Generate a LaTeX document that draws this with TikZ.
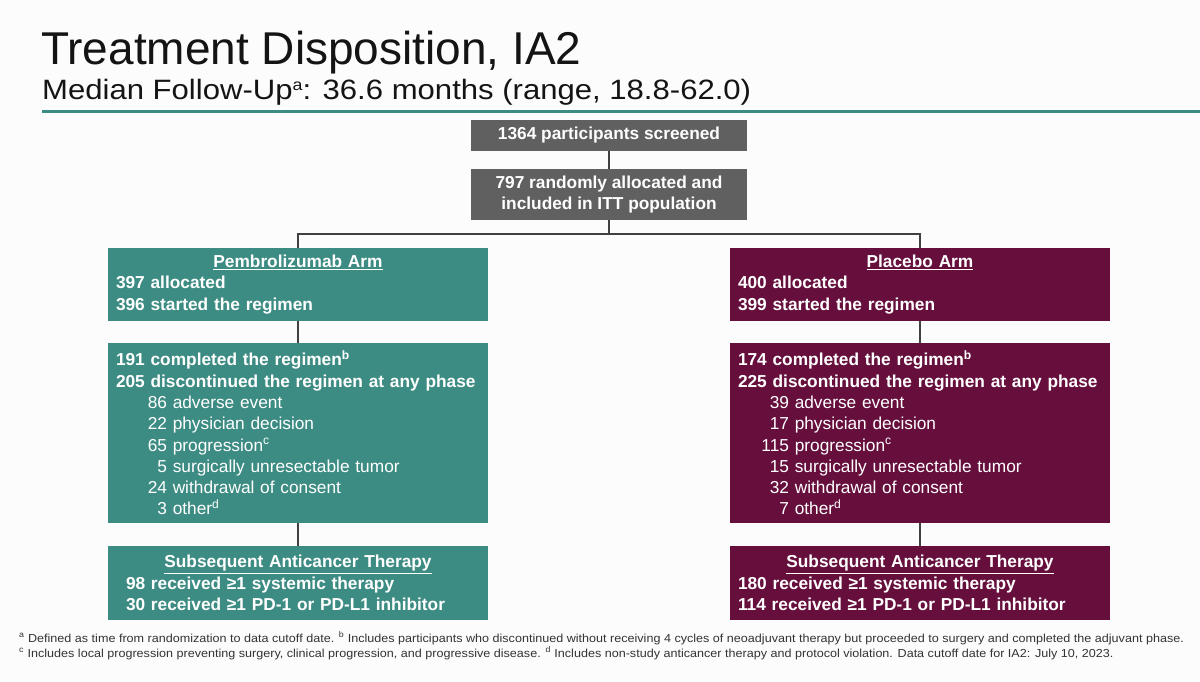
\documentclass[tikz,border=0pt]{standalone}
\usepackage{fontspec}
\setmainfont{Liberation Sans}
\newfontfamily\widesans[FakeStretch=1.11]{Liberation Sans}
\newfontfamily\notesans[FakeStretch=1.085]{Liberation Sans}
\usetikzlibrary{positioning}
\definecolor{teal1}{HTML}{3D8C83}
\definecolor{plum1}{HTML}{660F3D}
\definecolor{gray1}{HTML}{606060}
\definecolor{line1}{HTML}{404040}
\definecolor{bg1}{HTML}{FCFCFC}
\newcommand{\reasonline}[2]{\makebox[51pt][r]{#1} #2}
\begin{document}
\begin{tikzpicture}[x=1pt,y=1pt,
  boxbase/.style={rectangle, inner sep=0pt, text=white, font=\bfseries\fontsize{17.3}{21.3}\selectfont},
  graybox/.style={boxbase, fill=gray1, minimum width=276pt, align=center},
  armbox/.style={boxbase, minimum width=380pt, text width=364pt, align=left},
  conn/.style={draw=line1, line width=1.3pt},
  notetext/.style={anchor=base west, inner sep=0pt, font=\notesans\fontsize{11.6}{13}\selectfont, text=black!80}]
\useasboundingbox (0,0) rectangle (1200,-681);
\fill[bg1] (0,0) rectangle (1200,-681);
% title
\node[anchor=base west, inner sep=0pt, font=\fontsize{46}{50}\selectfont, text=black!92] (title) at (41,-64) {Treatment Disposition, IA2};
\node[anchor=base west, inner sep=0pt, font=\widesans\fontsize{28}{30}\selectfont, text=black!92] (subtitle) at (42,-99) {Median Follow-Up\raisebox{9pt}{\fontsize{16}{16}\selectfont a}: 36.6 months (range, 18.8-62.0)};
\fill[teal1] (42,-109.5) rectangle (1200,-113);
% top boxes
\node[graybox, minimum height=31pt] (screen) at (609,-135.5) {1364 participants screened};
\node[graybox, minimum height=51pt, font=\bfseries\fontsize{17.3}{21.5}\selectfont] (itt) at (609,-194.5) {797 randomly allocated and\\included in ITT population};
% left arm
\node[armbox, fill=teal1, minimum height=73pt] (parm) at (298,-284.5) {{\centering\underline{Pembrolizumab Arm}\par}397 allocated\\396 started the regimen};
\node[armbox, fill=teal1, minimum height=180pt] (pdisp) at (298,-433) {191 completed the regimen\textsuperscript{b}\\205 discontinued the regimen at any phase\\
{\mdseries\reasonline{86}{adverse event}\\\reasonline{22}{physician decision}\\\reasonline{65}{progression\textsuperscript{c}}\\\reasonline{5}{surgically unresectable tumor}\\\reasonline{24}{withdrawal of consent}\\\reasonline{3}{other\textsuperscript{d}}}};
\node[armbox, fill=teal1, minimum height=74pt] (psub) at (298,-583) {{\centering\underline{Subsequent Anticancer Therapy}\par}\hspace*{10pt}98 received ≥1 systemic therapy\\\hspace*{10pt}30 received ≥1 PD-1 or PD-L1 inhibitor};
% right arm
\node[armbox, fill=plum1, minimum height=73pt] (larm) at (920,-284.5) {{\centering\underline{Placebo Arm}\par}400 allocated\\399 started the regimen};
\node[armbox, fill=plum1, minimum height=180pt] (ldisp) at (920,-433) {174 completed the regimen\textsuperscript{b}\\225 discontinued the regimen at any phase\\
{\mdseries\reasonline{39}{adverse event}\\\reasonline{17}{physician decision}\\\reasonline{115}{progression\textsuperscript{c}}\\\reasonline{15}{surgically unresectable tumor}\\\reasonline{32}{withdrawal of consent}\\\reasonline{7}{other\textsuperscript{d}}}};
\node[armbox, fill=plum1, minimum height=74pt] (lsub) at (920,-583) {{\centering\underline{Subsequent Anticancer Therapy}\par}180 received ≥1 systemic therapy\\114 received ≥1 PD-1 or PD-L1 inhibitor};
% connectors
\coordinate (split) at (609,-234);
\draw[conn] (screen.south) -- (itt.north);
\draw[conn] (itt.south) -- (split);
\draw[conn] (parm.north) |- (split) -| (larm.north);
\draw[conn] (parm.south) -- (pdisp.north);
\draw[conn] (pdisp.south) -- (psub.north);
\draw[conn] (larm.south) -- (ldisp.north);
\draw[conn] (ldisp.south) -- (lsub.north);
% footnotes
\node[notetext] (fn1) at (19,-642) {\textsuperscript{a} Defined as time from randomization to data cutoff date. \textsuperscript{b} Includes participants who discontinued without receiving 4 cycles of neoadjuvant therapy but proceeded to surgery and completed the adjuvant phase.};
\node[notetext] (fn2) at (19,-657) {\textsuperscript{c} Includes local progression preventing surgery, clinical progression, and progressive disease. \textsuperscript{d} Includes non-study anticancer therapy and protocol violation. Data cutoff date for IA2: July 10, 2023.};
\end{tikzpicture}
\end{document}
